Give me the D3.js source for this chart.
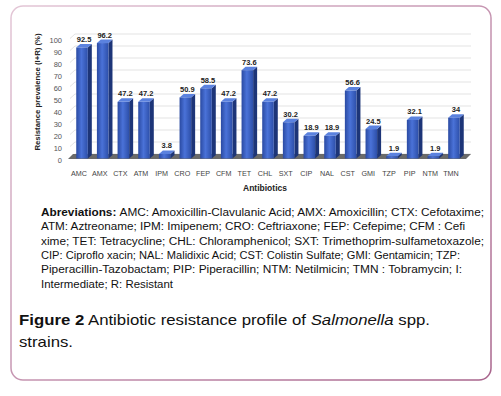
<!DOCTYPE html>
<html>
<head>
<meta charset="utf-8">
<script src="https://cdn.jsdelivr.net/npm/d3@7"></script>
<style>
  body { margin: 0; background: #fff; }
  svg { display: block; font-family: "Liberation Sans", Arial, sans-serif; }
</style>
</head>
<body>
<svg id="stage" width="501" height="396"></svg>
<script>
var categories = ['AMC', 'AMX', 'CTX', 'ATM', 'IPM', 'CRO', 'FEP', 'CFM', 'TET', 'CHL',
                  'SXT', 'CIP', 'NAL', 'CST', 'GMI', 'TZP', 'PIP', 'NTM', 'TMN'];
var values = [92.5, 96.2, 47.2, 47.2, 3.8, 50.9, 58.5, 47.2, 73.6, 47.2,
              30.2, 18.9, 18.9, 56.6, 24.5, 1.9, 32.1, 1.9, 34];
var yTicks = [0, 10, 20, 30, 40, 50, 60, 70, 80, 90, 100];
var abbrevLines = [
  'AMC: Amoxicillin-Clavulanic Acid; AMX: Amoxicillin; CTX: Cefotaxime;',
  'ATM: Aztreoname; IPM: Imipenem; CRO: Ceftriaxone; FEP: Cefepime; CFM : Cefi',
  'xime; TET: Tetracycline; CHL: Chloramphenicol; SXT: Trimethoprim-sulfametoxazole;',
  'CIP: Ciproflo xacin; NAL: Malidixic Acid; CST: Colistin Sulfate; GMI: Gentamicin; TZP:',
  'Piperacillin-Tazobactam; PIP: Piperacillin; NTM: Netilmicin; TMN : Tobramycin; I:',
  'Intermediate; R: Resistant'
];
var abbrevWidths = [443, 424, 443, 419, 421, 132];

var svg = d3.select('#stage'),
    DX = 4,      // bar depth
    DY = 3.5,
    WX = 5,      // back wall offset
    WY = 4.5;

var defs = svg.append('defs');
var frameGrad = defs.append('linearGradient')
  .attr('id', 'frameGrad')
  .attr('x1', 0).attr('y1', 0).attr('x2', 1).attr('y2', 1);
frameGrad.append('stop').attr('offset', '0%').attr('stop-color', '#e3c6d6');
frameGrad.append('stop').attr('offset', '100%').attr('stop-color', '#a8648c');

var barGrad = defs.append('linearGradient')
  .attr('id', 'barGrad')
  .attr('x1', 0).attr('y1', 0).attr('x2', 1).attr('y2', 0);
barGrad.append('stop').attr('offset', '0%').attr('stop-color', '#2a4aa2');
barGrad.append('stop').attr('offset', '45%').attr('stop-color', '#4a72d8');
barGrad.append('stop').attr('offset', '100%').attr('stop-color', '#2d4fa9');

// frame
svg.append('rect')
  .attr('x', 11).attr('y', 6)
  .attr('width', 480).attr('height', 374)
  .attr('rx', 12)
  .attr('fill', '#fff')
  .attr('stroke', 'url(#frameGrad)')
  .attr('stroke-width', 1.5);

var x = d3.scaleBand()
  .domain(categories)
  .range([71.7, 464.3])
  .paddingInner(0.44)
  .paddingOuter(0.22);

var y = d3.scaleLinear()
  .domain([0, 100])
  .range([158.5, 38.5]);

// back wall gridlines
svg.append('g').selectAll('path')
  .data(yTicks)
  .enter().append('path')
  .attr('d', function (d) {
    return 'M' + [70, y(d)] + 'L' + [70 + WX, y(d) - WY] + 'L' + [471, y(d) - WY];
  })
  .attr('fill', 'none')
  .attr('stroke', '#dcdcdc')
  .attr('stroke-width', 0.8);

// floor
svg.append('path')
  .attr('d', 'M' + [68, y(0) + 0.5] + 'L' + [466, y(0) + 0.5] +
             'L' + [471, y(0) - WY] + 'L' + [73, y(0) - WY] + 'Z')
  .attr('fill', '#6a6a6a');

// y axis labels
var yAxis = svg.append('g')
  .attr('transform', 'translate(62,1.5)')
  .call(d3.axisLeft(y).tickValues(yTicks).tickSize(0).tickPadding(0));
yAxis.select('.domain').remove();
yAxis.selectAll('text')
  .attr('fill', '#555')
  .style('font-size', '7.5px');

// bars
var bars = svg.append('g').selectAll('g')
  .data(values)
  .enter().append('g')
  .attr('transform', function (d, i) { return 'translate(' + x(categories[i]) + ',0)'; });

var bw = x.bandwidth();

bars.append('path')
  .attr('d', function (d) {
    var t = y(d), b = y(0);
    return 'M' + [bw, t] + 'L' + [bw + DX, t - DY] + 'L' + [bw + DX, b - DY] + 'L' + [bw, b] + 'Z';
  })
  .attr('fill', '#1d3578');

bars.append('path')
  .attr('d', function (d) {
    var t = y(d);
    return 'M' + [0, t] + 'L' + [DX, t - DY] + 'L' + [bw + DX, t - DY] + 'L' + [bw, t] + 'Z';
  })
  .attr('fill', '#5b82df');

bars.append('rect')
  .attr('x', 0)
  .attr('y', function (d) { return y(d); })
  .attr('width', bw)
  .attr('height', function (d) { return y(0) - y(d); })
  .attr('fill', 'url(#barGrad)');

bars.append('text')
  .text(function (d) { return d; })
  .attr('x', bw / 2 + 2)
  .attr('y', function (d) { return y(d) - DY - 2; })
  .attr('text-anchor', 'middle')
  .attr('fill', '#222')
  .style('font-size', '7.5px')
  .style('font-weight', 'bold');

// x labels
svg.append('g').selectAll('text')
  .data(categories)
  .enter().append('text')
  .text(function (d) { return d; })
  .attr('x', function (d) { return x(d) + bw / 2 - 3; })
  .attr('y', 175.5)
  .attr('text-anchor', 'middle')
  .attr('fill', '#444')
  .style('font-size', '7.2px');

// axis titles
svg.append('text')
  .text('Resistance prevalence (I+R) (%)')
  .attr('transform', 'translate(40,92) rotate(-90)')
  .attr('text-anchor', 'middle')
  .attr('textLength', 117)
  .attr('lengthAdjust', 'spacingAndGlyphs')
  .attr('fill', '#222')
  .style('font-size', '8px')
  .style('font-weight', 'bold');

svg.append('text')
  .text('Antibiotics')
  .attr('x', 265)
  .attr('y', 191)
  .attr('text-anchor', 'middle')
  .attr('fill', '#222')
  .style('font-size', '8.5px')
  .style('font-weight', 'bold');

// abbreviations
var abbr = svg.append('g').selectAll('text')
  .data(abbrevLines)
  .enter().append('text')
  .attr('x', 41)
  .attr('y', function (d, i) { return 215.7 + i * 14.4; })
  .attr('textLength', function (d, i) { return abbrevWidths[i]; })
  .attr('lengthAdjust', 'spacingAndGlyphs')
  .attr('fill', '#111')
  .style('font-size', '10px');

abbr.each(function (d, i) {
  var t = d3.select(this);
  if (i === 0) {
    t.append('tspan').style('font-weight', 'bold').text('Abreviations: ');
  }
  t.append('tspan').text(d);
});

// caption
var cap1 = svg.append('text')
  .attr('x', 19)
  .attr('y', 325)
  .attr('textLength', 411)
  .attr('lengthAdjust', 'spacingAndGlyphs')
  .attr('fill', '#111')
  .style('font-size', '15px');
cap1.append('tspan').style('font-weight', 'bold').text('Figure 2');
cap1.append('tspan').text(' Antibiotic resistance profile of ');
cap1.append('tspan').style('font-style', 'italic').text('Salmonella');
cap1.append('tspan').text(' spp.');

svg.append('text')
  .attr('x', 19)
  .attr('y', 346.5)
  .attr('textLength', 54)
  .attr('lengthAdjust', 'spacingAndGlyphs')
  .attr('fill', '#111')
  .style('font-size', '15px')
  .text('strains.');
</script>
</body>
</html>
